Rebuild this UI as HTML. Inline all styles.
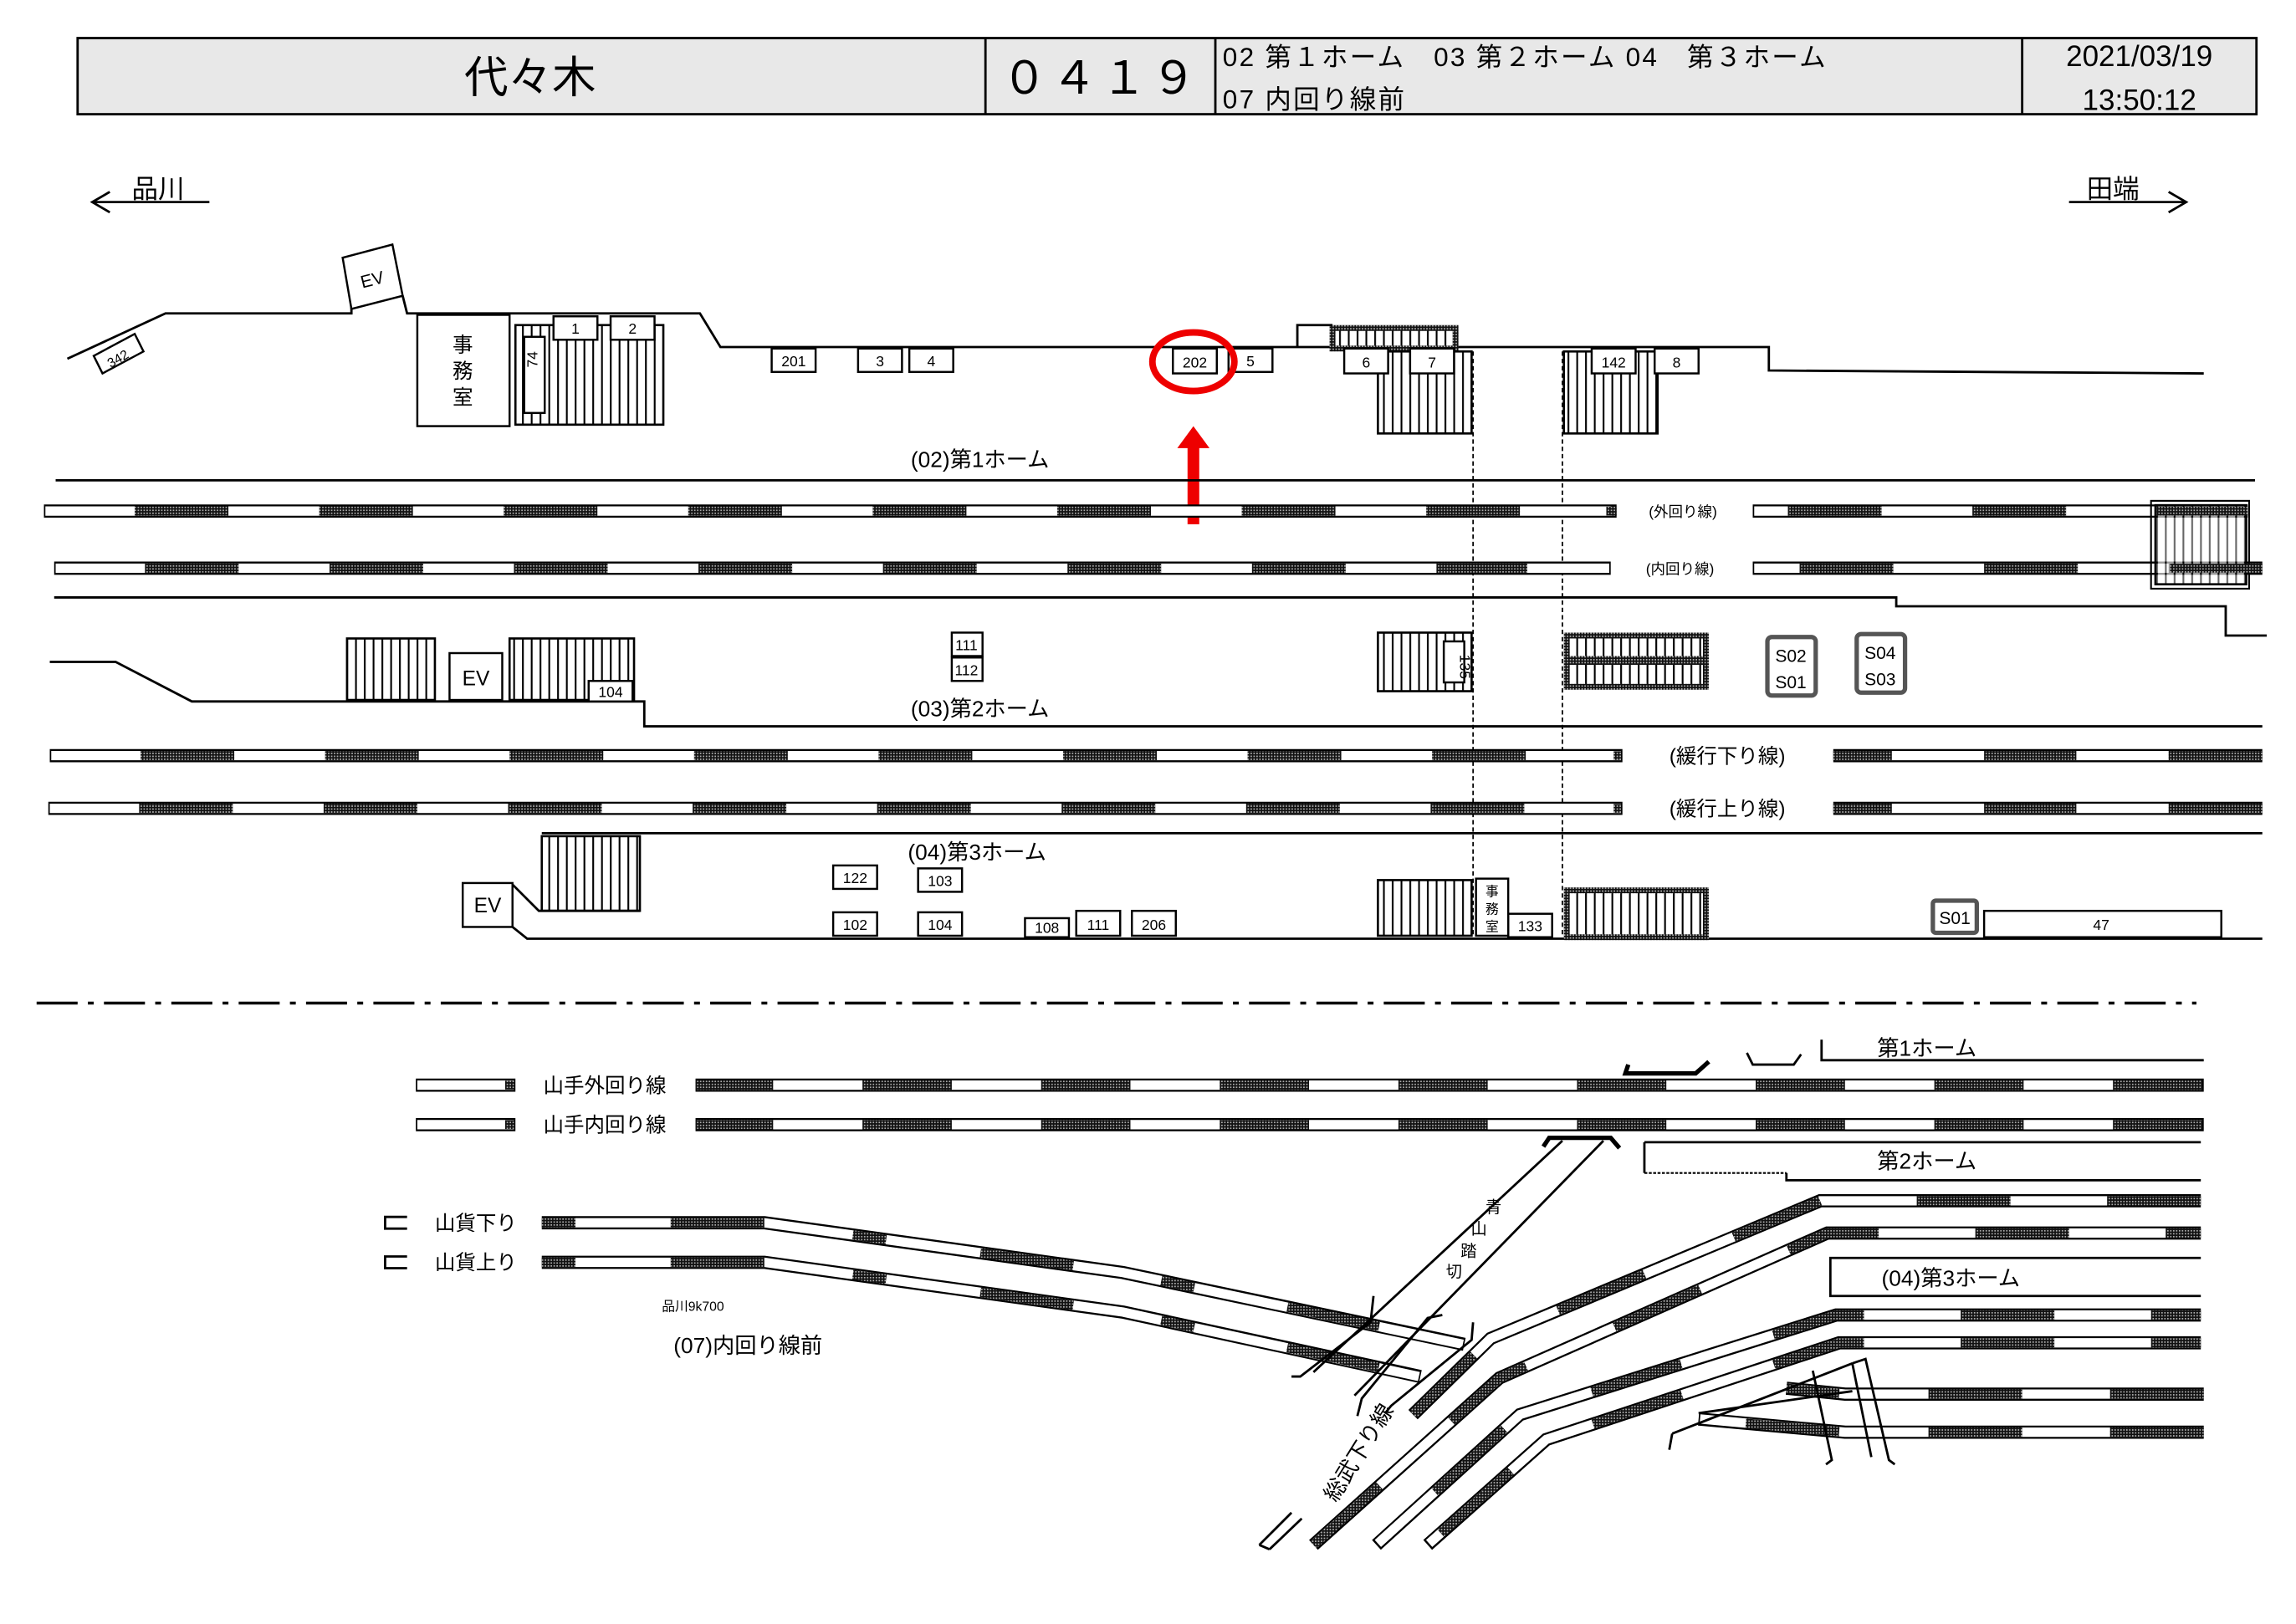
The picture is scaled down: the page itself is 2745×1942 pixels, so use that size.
<!DOCTYPE html>
<html><head><meta charset="utf-8"><style>
html,body{margin:0;padding:0;background:#fff}
svg{display:block}
text{font-family:"Liberation Sans","Noto Sans CJK JP",sans-serif;fill:#000}
.l{stroke:#000;stroke-width:1.6;fill:none}
.t{stroke:#000;stroke-width:1.1;fill:none}
.a{stroke:#000;stroke-width:9;fill:none;stroke-linejoin:miter}
.b{stroke:#fff;stroke-width:6.4;fill:none;stroke-linejoin:miter}
.c{stroke:url(#h);stroke-width:6.4;fill:none}
.bx{fill:#fff;stroke:#000;stroke-width:1.4}
.st{fill:url(#v);stroke:#000;stroke-width:1.5}
.es{fill:url(#v);stroke:url(#h);stroke-width:4}
</style></head><body>
<svg width="2745" height="1942" viewBox="0 0 1568 1109" preserveAspectRatio="none" xmlns="http://www.w3.org/2000/svg">
<defs>
<pattern id="h" width="2" height="2" patternUnits="userSpaceOnUse"><rect width="2" height="2" fill="#111"/><rect width="1" height="1" fill="#aaa"/></pattern>
<pattern id="v" width="6" height="10" patternUnits="userSpaceOnUse"><rect width="6" height="10" fill="#fff"/><rect x="2.5" width="1.2" height="10" fill="#000"/></pattern>
</defs>
<!-- header -->
<rect x="53" y="26" width="1488" height="52" fill="#e8e8e8" stroke="#000" stroke-width="1.6"/>
<line class="l" x1="673" y1="26" x2="673" y2="78"/><line class="l" x1="830" y1="26" x2="830" y2="78"/><line class="l" x1="1381" y1="26" x2="1381" y2="78"/>
<text x="362" y="63" font-size="30" text-anchor="middle">代々木</text>
<text x="752" y="64" font-size="31" text-anchor="middle" letter-spacing="3">０４１９</text>
<text x="835" y="45" font-size="18" letter-spacing="1.3">02 第１ホーム　03 第２ホーム 04　第３ホーム</text>
<text x="835" y="74" font-size="18" letter-spacing="1.3">07 内回り線前</text>
<text x="1461" y="45" font-size="20" text-anchor="middle">2021/03/19</text>
<text x="1461" y="75" font-size="20" text-anchor="middle">13:50:12</text>
<!-- direction -->
<text x="90" y="135" font-size="18">品川</text><polyline class="l" points="143,138 63,138"/><polyline class="l" points="75,131 63,138 75,145"/>
<text x="1425" y="135" font-size="18">田端</text><polyline class="l" points="1413,138 1493,138"/><polyline class="l" points="1481,131 1493,138 1481,145"/>

<!-- platform 1 top edge -->
<polyline class="l" points="46,245 113,214 240,214 240,194"/>
<polygon class="bx" points="234,176 268,167 275,202 240,211"/><text x="246" y="195" font-size="12" transform="rotate(-14 254 190)">EV</text>
<polyline class="l" points="275,202 278,214 478,214 492,237 1208,237 1208,253 1505,255"/>
<polygon class="bx" points="64,243 92,228 98,240 70,255"/><text x="72" y="248" font-size="9" transform="rotate(-30 80 243)">342</text>
<rect class="bx" x="285" y="215" width="63" height="76"/>
<text x="316" y="240" font-size="14" text-anchor="middle">事</text><text x="316" y="258" font-size="14" text-anchor="middle">務</text><text x="316" y="276" font-size="14" text-anchor="middle">室</text>
<rect class="st" x="352" y="222" width="101" height="68"/>
<rect class="bx" x="358" y="230" width="14" height="52"/><text x="370" y="258" font-size="10" transform="rotate(-90 365 256)">74</text>
<rect class="bx" x="378" y="216" width="30" height="16"/><text x="393" y="228" font-size="10" text-anchor="middle">1</text>
<rect class="bx" x="417" y="216" width="30" height="16"/><text x="432" y="228" font-size="10" text-anchor="middle">2</text>
<g font-size="10" text-anchor="middle">
<rect class="bx" x="527" y="238" width="30" height="16"/><text x="542" y="250">201</text>
<rect class="bx" x="586" y="238" width="30" height="16"/><text x="601" y="250">3</text>
<rect class="bx" x="621" y="238" width="30" height="16"/><text x="636" y="250">4</text>
<rect class="bx" x="801" y="238" width="30" height="17"/><text x="816" y="251">202</text>
<rect class="bx" x="839" y="238" width="30" height="16"/><text x="854" y="250">5</text>
</g>
<rect class="es" x="910" y="224" width="84" height="14"/><polyline class="l" points="886,237 886,222 910,222"/>
<rect class="st" x="941" y="240" width="64" height="56"/>
<rect class="st" x="1068" y="240" width="64" height="56"/>
<g font-size="10" text-anchor="middle">
<rect class="bx" x="918" y="238" width="30" height="17"/><text x="933" y="251">6</text>
<rect class="bx" x="963" y="238" width="30" height="17"/><text x="978" y="251">7</text>
<rect class="bx" x="1087" y="238" width="30" height="17"/><text x="1102" y="251">142</text>
<rect class="bx" x="1130" y="238" width="30" height="17"/><text x="1145" y="251">8</text>
</g>
<ellipse cx="815" cy="247" rx="28" ry="20" fill="none" stroke="#e00" stroke-width="4.5"/>
<rect x="811" y="305" width="8" height="53" fill="#e00"/><polygon points="804,306 826,306 815,291" fill="#e00"/>
<line x1="1006" y1="240" x2="1006" y2="640" stroke="#000" stroke-width="1" stroke-dasharray="3 2"/>
<line x1="1067" y1="240" x2="1067" y2="640" stroke="#000" stroke-width="1" stroke-dasharray="3 2"/>

<text x="622" y="319" font-size="15">(02)第1ホーム</text>
<line class="l" x1="38" y1="328" x2="1540" y2="328"/>
<!-- top tracks -->
<g>
<polyline class="a" points="30,349 1104,349"/><polyline class="b" points="31,349 1103,349"/><polyline class="c" points="92,349 1104,349" stroke-dasharray="64 62"/><rect x="1097" y="346" width="6" height="6" fill="url(#h)"/>
<polyline class="a" points="1197,349 1535,349"/><polyline class="b" points="1198,349 1534,349"/><polyline class="c" points="1221,349 1535,349" stroke-dasharray="64 62"/>
<polyline class="a" points="37,388 1100,388"/><polyline class="b" points="38,388 1099,388"/><polyline class="c" points="99,388 1043,388" stroke-dasharray="64 62"/>
<polyline class="a" points="1197,388 1545,388"/><polyline class="b" points="1198,388 1544,388"/><polyline class="c" points="1229,388 1545,388" stroke-dasharray="64 62"/>
<polyline class="a" points="34,516 1108,516"/><polyline class="b" points="35,516 1107,516"/><polyline class="c" points="96,516 1045,516" stroke-dasharray="64 62"/><rect x="1102" y="513" width="5" height="6" fill="url(#h)"/>
<polyline class="a" points="1252,516 1545,516"/><polyline class="b" points="1253,516 1544,516"/><polyline class="c" points="1252,516 1545,516" stroke-dasharray="40 63 63 63 64"/>
<polyline class="a" points="33,552 1108,552"/><polyline class="b" points="34,552 1107,552"/><polyline class="c" points="95,552 1045,552" stroke-dasharray="64 62"/><rect x="1102" y="549" width="5" height="6" fill="url(#h)"/>
<polyline class="a" points="1252,552 1545,552"/><polyline class="b" points="1253,552 1544,552"/><polyline class="c" points="1252,552 1545,552" stroke-dasharray="40 63 63 63 64"/>
</g>
<text x="1126" y="353" font-size="10">(外回り線)</text>
<text x="1124" y="392" font-size="10">(内回り線)</text>
<text x="1140" y="521" font-size="14">(緩行下り線)</text>
<text x="1140" y="557" font-size="14">(緩行上り線)</text>
<rect class="st" x="1472" y="345" width="62" height="54" fill-opacity="0.6"/><rect x="1469" y="342" width="67" height="60" fill="none" stroke="#000" stroke-width="1.2"/>
<rect x="1473" y="346" width="62" height="6" fill="url(#h)"/><rect x="1482" y="385" width="62" height="6" fill="url(#h)"/>

<polyline class="l" points="37,408 1295,408 1295,414 1520,414 1520,434 1548,434"/>
<!-- platform 2 -->
<polyline class="l" points="34,452 79,452 131,479 440,479 440,496 1545,496"/>
<rect class="st" x="237" y="436" width="60" height="42"/>
<rect class="bx" x="307" y="446" width="36" height="32"/><text x="325" y="468" font-size="14" text-anchor="middle">EV</text>
<rect class="st" x="348" y="436" width="85" height="42"/>
<rect class="bx" x="402" y="465" width="30" height="14"/><text x="417" y="476" font-size="10" text-anchor="middle">104</text>
<rect class="bx" x="650" y="432" width="21" height="16"/><text x="660" y="444" font-size="10" text-anchor="middle">111</text>
<rect class="bx" x="650" y="449" width="21" height="16"/><text x="660" y="461" font-size="10" text-anchor="middle">112</text>
<rect class="st" x="941" y="432" width="64" height="40"/>
<rect class="bx" x="986" y="438" width="14" height="28"/><text x="988" y="448" font-size="10" transform="rotate(90 993 452)">135</text>
<rect class="es" x="1070" y="434" width="95" height="35"/><rect x="1070" y="448" width="95" height="6" fill="url(#h)"/>
<g font-size="12" text-anchor="middle">
<rect x="1207" y="435" width="33" height="40" rx="3" fill="#fff" stroke="#555" stroke-width="3"/><text x="1223" y="452">S02</text><text x="1223" y="470">S01</text>
<rect x="1268" y="433" width="33" height="40" rx="3" fill="#fff" stroke="#555" stroke-width="3"/><text x="1284" y="450">S04</text><text x="1284" y="468">S03</text>
</g>
<text x="622" y="489" font-size="15">(03)第2ホーム</text>
<!-- platform 3 -->
<line class="l" x1="370" y1="569" x2="1545" y2="569"/>
<text x="620" y="587" font-size="15">(04)第3ホーム</text>
<rect class="st" x="370" y="571" width="67" height="51"/>
<rect class="bx" x="316" y="603" width="34" height="30"/><text x="333" y="623" font-size="14" text-anchor="middle">EV</text>
<polyline class="l" points="350,604 368,622 437,622"/>
<polyline class="l" points="350,633 360,641 1545,641"/>
<g font-size="10" text-anchor="middle">
<rect class="bx" x="569" y="591" width="30" height="16"/><text x="584" y="603">122</text>
<rect class="bx" x="627" y="593" width="30" height="16"/><text x="642" y="605">103</text>
<rect class="bx" x="569" y="623" width="30" height="16"/><text x="584" y="635">102</text>
<rect class="bx" x="627" y="623" width="30" height="16"/><text x="642" y="635">104</text>
<rect class="bx" x="700" y="627" width="30" height="13"/><text x="715" y="637">108</text>
<rect class="bx" x="735" y="622" width="30" height="17"/><text x="750" y="635">111</text>
<rect class="bx" x="773" y="622" width="30" height="17"/><text x="788" y="635">206</text>
<rect class="bx" x="1030" y="624" width="30" height="16"/><text x="1045" y="636">133</text>
<rect class="bx" x="1355" y="622" width="162" height="18"/><text x="1435" y="635">47</text>
<rect x="1320" y="615" width="30" height="22" rx="2" fill="#fff" stroke="#555" stroke-width="3"/><text x="1335" y="631" font-size="12">S01</text>
</g>
<rect class="st" x="941" y="601" width="64" height="38"/>
<rect class="bx" x="1008" y="600" width="22" height="39"/>
<text x="1019" y="612" font-size="9" text-anchor="middle">事</text><text x="1019" y="624" font-size="9" text-anchor="middle">務</text><text x="1019" y="636" font-size="9" text-anchor="middle">室</text>
<rect class="es" x="1070" y="608" width="95" height="32"/>

<!-- dash-dot separator -->
<line x1="25" y1="685" x2="1500" y2="685" stroke="#000" stroke-width="2" stroke-dasharray="28 7 4 7"/>

<!-- bottom section -->
<polyline class="l" points="1244,710 1244,724 1505,724"/>
<text x="1282" y="721" font-size="15">第1ホーム</text>
<polyline points="1112,727 1110,733 1158,733 1167,725" fill="none" stroke="#000" stroke-width="3"/>
<polyline class="l" points="1193,719 1197,727 1225,727 1230,720"/>
<polyline class="l" points="1123,780 1503,780"/><polyline class="l" points="1123,780 1123,801"/>
<line x1="1123" y1="801" x2="1220" y2="801" stroke="#000" stroke-width="1.2" stroke-dasharray="2 1"/>
<polyline class="l" points="1220,801 1220,806 1503,806"/>
<text x="1282" y="798" font-size="15">第2ホーム</text>
<polyline class="l" points="1503,859 1250,859 1250,885 1503,885"/>
<text x="1285" y="878" font-size="15">(04)第3ホーム</text>

<text x="371" y="746" font-size="14">山手外回り線</text>
<text x="371" y="773" font-size="14">山手内回り線</text>
<text x="297" y="840" font-size="14">山貨下り</text>
<text x="297" y="867" font-size="14">山貨上り</text>

<g>
<polyline class="a" points="284,741 352,741"/><polyline class="b" points="285,741 351,741"/><rect x="345" y="738" width="6" height="6" fill="url(#h)"/>
<polyline class="a" points="284,768 352,768"/><polyline class="b" points="285,768 351,768"/><rect x="345" y="765" width="6" height="6" fill="url(#h)"/>
<polyline class="a" points="475,741 1505,741"/><polyline class="b" points="476,741 1504,741"/><polyline class="c" points="475,741 1505,741" stroke-dasharray="61 61" stroke-dashoffset="8"/>
<polyline class="a" points="475,768 1505,768"/><polyline class="b" points="476,768 1504,768"/><polyline class="c" points="475,768 1505,768" stroke-dasharray="61 61" stroke-dashoffset="8"/>
<polyline class="l" points="278,831 263,831 263,839 278,839"/>
<polyline class="l" points="278,858 263,858 263,866 278,866"/>
<polyline class="a" points="370,835 522,835 767,869 1000,918"/><polyline class="b" points="371,835 522,835 767,869 999,918"/><polyline class="c" points="370,835 522,835 767,869 1000,918" stroke-dasharray="23 65 64 61"/>
<polyline class="a" points="370,862 522,862 767,896 970,940"/><polyline class="b" points="371,862 522,862 767,896 969,940"/><polyline class="c" points="370,862 522,862 767,896 970,940" stroke-dasharray="23 65 64 61"/>
<!-- sobu tracks -->
<polyline class="a" points="1503,820 1243,820 1018,914 965,966"/><polyline class="b" points="1502,820 1243,820 1018,914 966,965"/><polyline class="c" points="1503,820 1243,820 1018,914 965,966" stroke-dasharray="64 66"/>
<polyline class="a" points="1503,842 1248,842 1024,941 897,1055"/><polyline class="b" points="1502,842 1248,842 1024,941 898,1054"/><polyline class="c" points="1503,842 1248,842 1024,941 897,1055" stroke-dasharray="64 66" stroke-dashoffset="40"/>
<polyline class="a" points="1503,898 1254,898 1038,966 940,1055"/><polyline class="b" points="1502,898 1254,898 1038,966 941,1054"/><polyline class="c" points="1503,898 1254,898 1038,966 940,1055" stroke-dasharray="64 66" stroke-dashoffset="30"/>
<polyline class="a" points="1503,917 1256,917 1056,983 975,1055"/><polyline class="b" points="1502,917 1256,917 1056,983 976,1054"/><polyline class="c" points="1503,917 1256,917 1056,983 975,1055" stroke-dasharray="64 66" stroke-dashoffset="30"/>
<polyline class="a" points="1505,952 1260,952 1220,948"/><polyline class="b" points="1504,952 1260,952 1221,948"/><polyline class="c" points="1505,952 1260,952 1220,948" stroke-dasharray="64 60 64 61"/>
<polyline class="a" points="1505,978 1260,978 1160,969"/><polyline class="b" points="1504,978 1260,978 1161,969"/><polyline class="c" points="1505,978 1260,978 1160,969" stroke-dasharray="64 60 64 61"/>
</g>
<text x="452" y="895" font-size="9">品川9k700</text>
<text x="460" y="924" font-size="15">(07)内回り線前</text>
<!-- crossing -->
<line class="l" x1="1067" y1="779" x2="897" y2="937"/>
<line class="l" x1="1095" y1="779" x2="925" y2="953"/>
<polyline points="1054,783 1058,777 1100,777 1106,784" fill="none" stroke="#000" stroke-width="3"/>
<g font-size="11" text-anchor="middle"><text x="1020" y="828">青</text><text x="1010" y="843">山</text><text x="1003" y="858">踏</text><text x="993" y="872">切</text></g>
<polyline class="l" points="938,885 936,903 888,940 882,940"/>
<polyline class="l" points="985,898 975,900 930,955 927,967"/>
<polyline class="l" points="1006,903 1005,915 950,960 946,965"/>
<line class="l" x1="1142" y1="979" x2="1265" y2="931"/><line class="l" x1="1142" y1="979" x2="1140" y2="990"/>
<line class="l" x1="1160" y1="965" x2="1265" y2="950"/>
<polyline class="l" points="1238,936 1251,997 1247,1000"/>
<polyline class="l" points="1265,931 1274,928 1290,997 1294,1000"/>
<line class="l" x1="1265" y1="931" x2="1278" y2="995"/>
<polyline class="l" points="860,1055 882,1033"/><polyline class="l" points="867,1058 889,1037"/><polyline class="l" points="860,1055 867,1058"/>
<text x="895" y="1025" font-size="15" transform="rotate(-58 905 1010)">総武下り線</text>
</svg>
</body></html>
